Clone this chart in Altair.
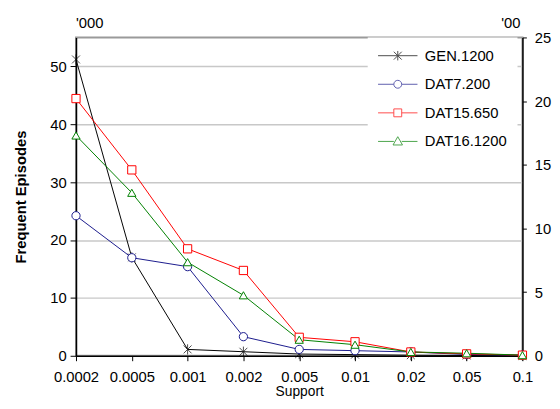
import altair as alt
import pandas as pd

# ---- data ----
support = ["0.0002", "0.0005", "0.001", "0.002", "0.005", "0.01", "0.02", "0.05", "0.1"]
gen_1200 = [51.2, 17.0, 1.1, 0.7, 0.3, 0.2, 0.1, 0.05, 0.0]          # left axis ('000)
dat7_200 = [11.0, 7.7, 7.0, 1.5, 0.5, 0.4, 0.3, 0.1, 0.05]           # right axis ('00)
dat15_650 = [20.2, 14.6, 8.4, 6.7, 1.45, 1.1, 0.3, 0.15, 0.05]
dat16_1200 = [17.3, 12.8, 7.35, 4.75, 1.26, 0.87, 0.3, 0.2, 0.05]

series_names = ["GEN.1200", "DAT7.200", "DAT15.650", "DAT16.1200"]
series_colors = ["#000000", "#1a1a8c", "#ff0000", "#008000"]
left_ticks = [0, 10, 20, 30, 40, 50]
right_ticks = [0, 5, 10, 15, 20, 25]

FONT = "Liberation Sans"

rows = []
for name, vals in zip(series_names, [gen_1200, dat7_200, dat15_650, dat16_1200]):
    for i, (s, v) in enumerate(zip(support, vals)):
        rows.append({"support": s, "series": name, "value": v, "idx": i})
df = pd.DataFrame(rows)

point_shapes = [
    "M-1,-1L1,1M-1,1L1,-1M0,-1.3V1.3",
    "circle",
    "square",
    "triangle-up",
]
legend_shapes = [
    "M-1,0H4M1,-0.5L2,0.5M1,0.5L2,-0.5M1.5,-0.6V0.6",
    "M-1,0H1M2,0H4M1,0A0.5,0.5 0 1,0 2,0A0.5,0.5 0 1,0 1,0",
    "M-1,0H1M2,0H4M1,-0.5H2V0.5H1Z",
    "M-1,0H1M2,0H4M1.5,-0.6L2.1,0.45H0.9Z",
]

x_enc = alt.X(
    "support:N",
    sort=support,
    scale=alt.Scale(type="point", padding=0),
    axis=alt.Axis(title="Support", labelAngle=0, tickSize=5, labelPadding=9,
                  titlePadding=0, domainWidth=1.5, grid=False),
)

color_nolegend = alt.Color(
    "series:N", scale=alt.Scale(domain=series_names, range=series_colors), legend=None
)
shape_nolegend = alt.Shape(
    "series:N", scale=alt.Scale(domain=series_names, range=point_shapes), legend=None
)

# ---- left axis: GEN.1200 ----
gen_df = df[df.series == "GEN.1200"]
y_left = alt.Y(
    "value:Q",
    scale=alt.Scale(domain=[0, 55], nice=False, zero=True),
    axis=alt.Axis(values=left_ticks, title="Frequent Episodes", orient="left",
                  grid=True, gridColor="#c8c8c8", gridWidth=1.5,
                  tickSize=6, labelPadding=4, titlePadding=22,
                  titleFontWeight="bold", titleFontSize=15, domainWidth=1.5),
)
gen_line = alt.Chart(gen_df).mark_line(strokeWidth=1).encode(
    x=x_enc, y=y_left, color=color_nolegend, order=alt.Order("idx:Q")
)
gen_pts = alt.Chart(gen_df).mark_point(filled=False, size=64, strokeWidth=1).encode(
    x=x_enc, y=y_left, color=color_nolegend, shape=shape_nolegend
)
left = alt.layer(gen_line, gen_pts)

# ---- right axis: DAT series ----
dat_df = df[df.series != "GEN.1200"]
y_right = alt.Y(
    "value:Q",
    scale=alt.Scale(domain=[0, 25], nice=False, zero=True),
    axis=alt.Axis(values=right_ticks, title=None, orient="right", grid=False,
                  tickSize=4, labelPadding=8, domainWidth=1.5),
)
dat_line = alt.Chart(dat_df).mark_line(strokeWidth=1).encode(
    x=x_enc, y=y_right, color=color_nolegend, detail="series:N", order=alt.Order("idx:Q")
)
dat_pts = alt.Chart(dat_df).mark_point(filled=False, fill="white", fillOpacity=1,
                                       size=70, strokeWidth=1).encode(
    x=x_enc, y=y_right, color=color_nolegend, shape=shape_nolegend
)
right = alt.layer(dat_line, dat_pts)

# ---- legend only layer (no marks drawn) ----
leg = alt.Legend(
    title=None, orient="none", legendX=296, legendY=0, fillColor="white",
    padding=10, rowPadding=12, labelOffset=31, labelFontSize=15, labelFont=FONT,
    labelColor="black", symbolSize=256, symbolStrokeWidth=1, labelLimit=300,
)
legend_layer = alt.Chart(df).transform_filter("false").mark_point(
    filled=False, size=256, strokeWidth=1
).encode(
    color=alt.Color("series:N", scale=alt.Scale(domain=series_names, range=series_colors), legend=leg),
    shape=alt.Shape("series:N", scale=alt.Scale(domain=series_names, range=legend_shapes), legend=leg),
)

# ---- unit labels above the axes ----
unit_left = alt.Chart(pd.DataFrame({"t": ["'000"]})).mark_text(
    align="left", baseline="middle", font=FONT, fontSize=15, color="black"
).encode(x=alt.value(0), y=alt.value(-15), text="t:N")
unit_right = alt.Chart(pd.DataFrame({"t": ["'00"]})).mark_text(
    align="right", baseline="middle", font=FONT, fontSize=15, color="black"
).encode(x=alt.value(451), y=alt.value(-15), text="t:N")

chart = alt.layer(left, right, legend_layer, unit_left, unit_right).resolve_scale(
    y="independent", color="independent", shape="independent"
).properties(
    width=453, height=323,
    autosize=alt.AutoSizeParams(type="none"),
    padding={"left": 69, "top": 27, "right": 30, "bottom": 43},
).configure_axis(
    labelFont=FONT, titleFont=FONT, labelFontSize=15, titleFontSize=14,
    labelColor="black", titleColor="black", domainColor="black", tickColor="black",
    titleFontWeight="normal",
).configure_view(
    stroke="#9a9a9a", strokeWidth=2
)

chart.save("out.html", embed_options={"renderer": "svg", "actions": False})
